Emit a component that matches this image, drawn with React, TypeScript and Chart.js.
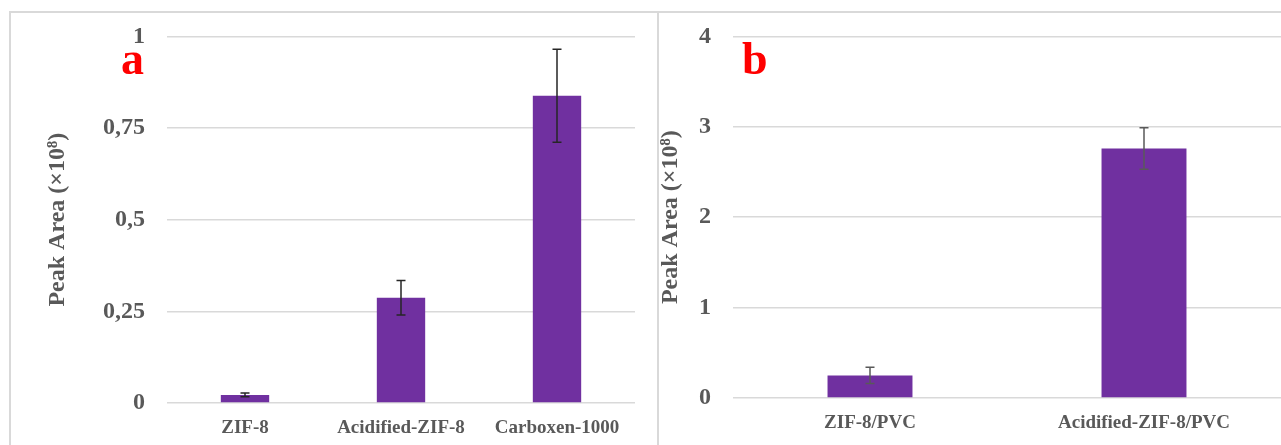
import React, { useEffect, useRef } from 'react';
import { Chart, registerables } from 'chart.js';

Chart.register(...registerables);

const leftCategories = ['ZIF-8', 'Acidified-ZIF-8', 'Carboxen-1000'];
const leftValues = [0.022, 0.287, 0.838];
const leftErrors = [0.005, 0.047, 0.127];
const leftTickLabels = ['0', '0,25', '0,5', '0,75', '1'];

const rightCategories = ['ZIF-8/PVC', 'Acidified-ZIF-8/PVC'];
const rightValues = [0.25, 2.76];
const rightErrors = [0.09, 0.23];
const rightTickLabels = ['0', '1', '2', '3', '4'];

const axisTitle = 'Peak Area (×10⁸)';

const FONT = "'Liberation Serif', 'Times New Roman', serif";
const TEXT = '#595959';
const GRID = '#d9d9d9';
const BAR = '#7030a0';

const errorBarPlugin = {
  id: 'errorBars',
  afterDatasetsDraw(chart: any, _args: any, opts: any) {
    const { ctx } = chart;
    const y = chart.scales.y;
    const meta = chart.getDatasetMeta(0);
    const ds = chart.data.datasets[0];
    const errs: number[] = opts.errors || [];
    const cap = opts.cap ?? 4.5;
    ctx.save();
    ctx.strokeStyle = opts.color;
    ctx.lineWidth = opts.width ?? 1.5;
    meta.data.forEach((bar: any, i: number) => {
      const v = ds.data[i] as number;
      const e = errs[i];
      const yTop = y.getPixelForValue(v + e);
      const yBot = y.getPixelForValue(v - e);
      const x = bar.x;
      ctx.beginPath();
      ctx.moveTo(x, yTop);
      ctx.lineTo(x, yBot);
      ctx.moveTo(x - cap, yTop);
      ctx.lineTo(x + cap, yTop);
      ctx.moveTo(x - cap, yBot);
      ctx.lineTo(x + cap, yBot);
      ctx.stroke();
    });
    ctx.restore();
  },
};

const panelLabelPlugin = {
  id: 'panelLabel',
  afterDraw(chart: any, _args: any, opts: any) {
    const { ctx } = chart;
    ctx.save();
    ctx.fillStyle = '#ff0000';
    ctx.font = `bold ${opts.size}px ${FONT}`;
    ctx.textAlign = 'left';
    ctx.textBaseline = 'alphabetic';
    ctx.fillText(opts.text, opts.x, opts.y);
    ctx.restore();
  },
};

type PanelProps = {
  categories: string[];
  values: number[];
  errors: number[];
  tickLabels: string[];
  max: number;
  step: number;
  width: number;
  height: number;
  yWidth: number;
  xHeight: number;
  padTop: number;
  padRight: number;
  titlePad: number;
  errColor: string;
  label: { text: string; x: number; y: number };
};

function Panel(p: PanelProps) {
  const ref = useRef<HTMLCanvasElement>(null);
  useEffect(() => {
    if (!ref.current) return;
    const chart = new Chart(ref.current, {
      type: 'bar',
      data: {
        labels: p.categories,
        datasets: [
          {
            data: p.values,
            backgroundColor: BAR,
            borderWidth: 0,
            barPercentage: 0.31,
            categoryPercentage: 1,
          },
        ],
      },
      options: {
        responsive: false,
        animation: false,
        devicePixelRatio: 1,
        layout: { padding: { top: p.padTop, right: p.padRight, left: 0, bottom: 0 } },
        plugins: {
          legend: { display: false },
          tooltip: { enabled: false },
          errorBars: { errors: p.errors, color: p.errColor, width: 1.5, cap: 4.5 },
          panelLabel: { ...p.label, size: 46 },
        } as any,
        scales: {
          x: {
            grid: { display: false },
            border: { display: false },
            ticks: {
              color: TEXT,
              padding: 6,
              font: { family: FONT, size: 19, weight: 'bold' },
              maxRotation: 0,
              autoSkip: false,
            },
            afterFit: (s: any) => {
              s.height = p.xHeight;
            },
          },
          y: {
            min: 0,
            max: p.max,
            grid: { color: GRID, lineWidth: 1.5, drawTicks: false },
            border: { display: false },
            ticks: {
              stepSize: p.step,
              padding: 22,
              color: TEXT,
              font: { family: FONT, size: 24, weight: 'bold' },
              callback: (_v: any, i: number) => p.tickLabels[i],
            },
            title: {
              display: true,
              text: axisTitle,
              color: TEXT,
              font: { family: FONT, size: 24, weight: 'bold', lineHeight: 1 },
              padding: { top: p.titlePad, bottom: 0 },
            },
            afterFit: (s: any) => {
              s.width = p.yWidth;
            },
          },
        },
      },
      plugins: [errorBarPlugin, panelLabelPlugin],
    });
    return () => chart.destroy();
  }, []);
  return <canvas ref={ref} width={p.width} height={p.height} style={{ display: 'block' }} />;
}

export default function App() {
  return (
    <div
      style={{
        position: 'fixed',
        left: 0,
        top: 0,
        width: 1281,
        height: 445,
        background: '#ffffff',
        overflow: 'hidden',
      }}
    >
      <div style={{ position: 'absolute', left: 9, top: 11, width: 1272, height: 1.5, background: GRID }} />
      <div style={{ position: 'absolute', left: 9, top: 11, width: 1.5, height: 434, background: GRID }} />
      <div style={{ position: 'absolute', left: 657, top: 11, width: 1.5, height: 434, background: GRID }} />
      <div style={{ position: 'absolute', left: 0, top: 0 }}>
        <Panel
          categories={leftCategories}
          values={leftValues}
          errors={leftErrors}
          tickLabels={leftTickLabels}
          max={1}
          step={0.25}
          width={658}
          height={445}
          yWidth={167}
          xHeight={42}
          padTop={36}
          padRight={23}
          titlePad={46}
          errColor="#262626"
          label={{ text: 'a', x: 121, y: 74 }}
        />
      </div>
      <div style={{ position: 'absolute', left: 658, top: 0 }}>
        <Panel
          categories={rightCategories}
          values={rightValues}
          errors={rightErrors}
          tickLabels={rightTickLabels}
          max={4}
          step={1}
          width={623}
          height={445}
          yWidth={75}
          xHeight={47}
          padTop={33}
          padRight={0}
          titlePad={1}
          errColor="#595959"
          label={{ text: 'b', x: 84, y: 74 }}
        />
      </div>
    </div>
  );
}
